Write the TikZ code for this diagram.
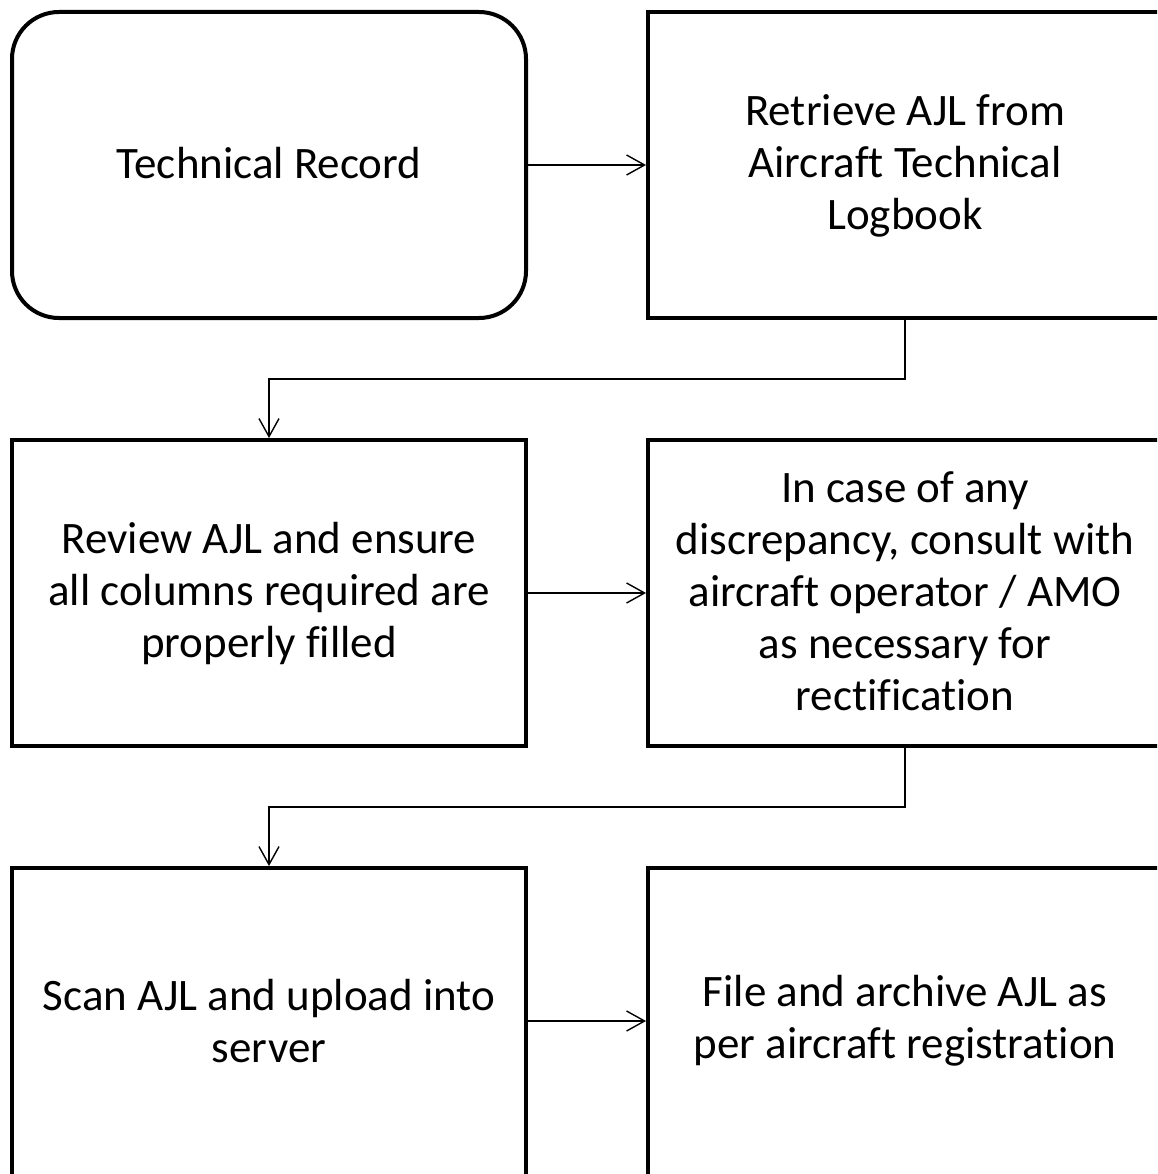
\documentclass[tikz,border=0pt]{standalone}
\usepackage{fontspec}
\setmainfont{Carlito}[Ligatures={NoCommon}]
\usetikzlibrary{arrows.meta}
\begin{document}
\begin{tikzpicture}[x=1pt,y=-1pt,
  frame/.style={draw=black,line width=4pt,inner sep=0pt},
  box/.style={frame,minimum width=514pt,minimum height=306pt},
  rbox/.style={box,rounded corners=47pt},
  txt/.style={align=center,font=\fontsize{45pt}{52pt}\selectfont,inner sep=0pt},
  conn/.style={line width=1.4pt,-{Straight Barb[length=18pt,width=20pt,line width=1.4pt]}}]
\useasboundingbox (0,0) rectangle (1157,1174);
\clip (0,0) rectangle (1157,1174);
% boxes (right column and bottom row run past the picture edge)
\node[rbox] (tr) at (269,165) {};
\node[frame,minimum width=554pt,minimum height=306pt] (ret) at (925,165) {};
\node[box] (rev) at (269,593) {};
\node[frame,minimum width=554pt,minimum height=306pt] (dis) at (925,593) {};
\node[frame,minimum width=514pt,minimum height=346pt] (scan) at (269,1041) {};
\node[frame,minimum width=554pt,minimum height=346pt] (file) at (925,1041) {};
% texts
\node[txt] (trt) at (269,163) {Technical Record};
\node[txt] (rett) at (905,166) {Retrieve AJL from\\Aircraft Technical\\Logbook};
\node[txt] (revt) at (269,593) {Review AJL and ensure\\all columns required are\\properly filled};
\node[txt] (dist) at (905,591) {In case of any\\discrepancy, consult with\\aircraft operator / AMO\\as necessary for\\rectification};
\node[txt] (scant) at (269,1021) {Scan AJL and upload into\\server};
\node[txt] (filet) at (905,1021) {File and archive AJL as\\per aircraft registration};
% connectors
\draw[conn] (tr.east) -- (tr.east -| ret.west);
\draw[conn] (ret.south -| rett.south) -- ++(0,59) -| (rev.north);
\draw[conn] (rev.east) -- (rev.east -| dis.west);
\draw[conn] (dis.south -| dist.south) -- ++(0,59) -| (scan.north);
\draw[conn] (scant.east -| scan.east) -- (scant.east -| file.west);
\end{tikzpicture}
\end{document}
